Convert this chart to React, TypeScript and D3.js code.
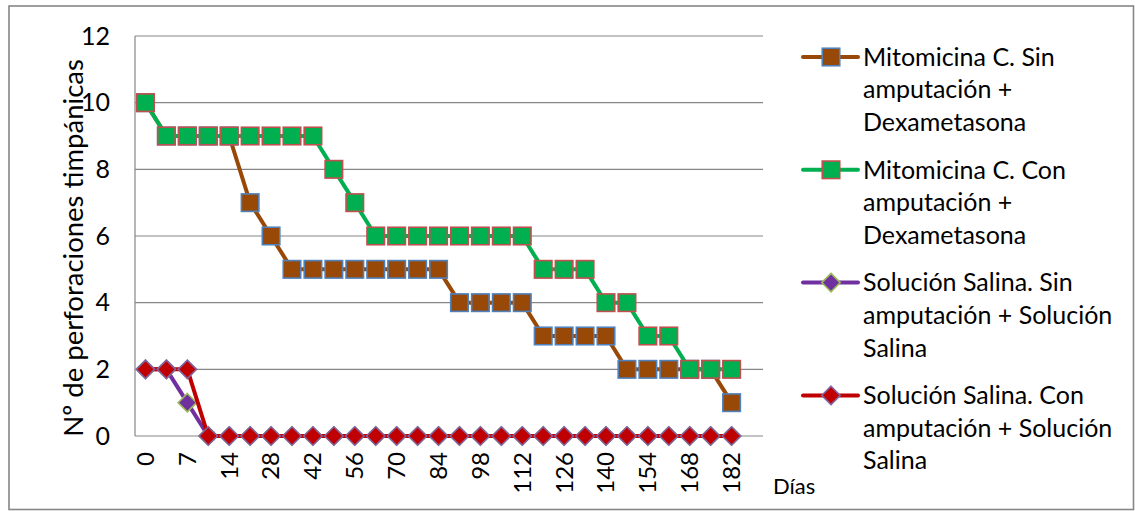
import React from "react";
import * as d3 from "d3";

// Days of follow-up (category axis; every second one is labelled)
const dias = [
  "0", "3", "7", "10", "14", "21", "28", "35", "42", "49", "56", "63", "70", "77", "84",
  "91", "98", "105", "112", "119", "126", "133", "140", "147", "154", "161", "168", "175", "182", "189",
];

const mitoSinAmp: (number | null)[] = [
  10, 9, 9, 9, 9, 7, 6, 5, 5, 5, 5, 5, 5, 5, 5, 4, 4, 4, 4, 3, 3, 3, 3, 2, 2, 2, 2, 2, 1, null,
];
const mitoConAmp: (number | null)[] = [
  10, 9, 9, 9, 9, 9, 9, 9, 9, 8, 7, 6, 6, 6, 6, 6, 6, 6, 6, 5, 5, 5, 4, 4, 3, 3, 2, 2, 2, null,
];
const salinaSinAmp: (number | null)[] = [
  2, 2, 1, 0, 0, 0, 0, 0, 0, 0, 0, 0, 0, 0, 0, 0, 0, 0, 0, 0, 0, 0, 0, 0, 0, 0, 0, 0, 0, null,
];
const salinaConAmp: (number | null)[] = [
  2, 2, 2, 0, 0, 0, 0, 0, 0, 0, 0, 0, 0, 0, 0, 0, 0, 0, 0, 0, 0, 0, 0, 0, 0, 0, 0, 0, 0, null,
];

const yTicks = [0, 2, 4, 6, 8, 10, 12];

type Series = {
  lines: string[];
  values: (number | null)[];
  line: string;
  fill: string;
  stroke: string;
  shape: "square" | "diamond";
};

const series: Series[] = [
  { lines: ["Mitomicina C. Sin", "amputación +", "Dexametasona"], values: mitoSinAmp, line: "#984807", fill: "#984807", stroke: "#4F81BD", shape: "square" },
  { lines: ["Mitomicina C. Con", "amputación +", "Dexametasona"], values: mitoConAmp, line: "#00B050", fill: "#00B050", stroke: "#C0504D", shape: "square" },
  { lines: ["Solución Salina. Sin", "amputación + Solución", "Salina"], values: salinaSinAmp, line: "#7030A0", fill: "#7030A0", stroke: "#9BBB59", shape: "diamond" },
  { lines: ["Solución Salina. Con", "amputación + Solución", "Salina"], values: salinaConAmp, line: "#C00000", fill: "#C00000", stroke: "#8064A2", shape: "diamond" },
];

const W = 1135;
const H = 511;
const plot = { left: 135, right: 763, top: 36, bottom: 436 };
const FONT = "Lato, 'Open Sans', sans-serif";
const GRID = "#868686";

function Marker({ shape, x, y, fill, stroke }: { shape: string; x: number; y: number; fill: string; stroke: string }) {
  if (shape === "square") {
    const s = 17.5;
    return <rect x={x - s / 2} y={y - s / 2} width={s} height={s} fill={fill} stroke={stroke} strokeWidth={1.6} />;
  }
  const r = 9.2;
  return (
    <path
      d={`M${x},${y - r}L${x + r},${y}L${x},${y + r}L${x - r},${y}Z`}
      fill={fill}
      stroke={stroke}
      strokeWidth={1.6}
    />
  );
}

export default function App() {
  const x = d3.scaleBand<string>().domain(dias).range([plot.left, plot.right]).padding(0);
  const cx = (d: string) => (x(d) ?? 0) + x.bandwidth() / 2;
  const y = d3.scaleLinear().domain([0, 12]).range([plot.bottom, plot.top]);

  const lineGen = d3
    .line<number | null>()
    .defined((v) => v !== null)
    .x((_, i) => cx(dias[i]))
    .y((v) => y(v as number));

  const legendX = 803;
  const legendTop = 57;
  const itemStep = 112.8;
  const lineStep = 32.6;

  return (
    <svg
      width={W}
      height={H}
      style={{ position: "absolute", left: 0, top: 0, display: "block" }}
      fontFamily={FONT}
    >
      <rect x={0} y={0} width={W} height={H} fill="#fff" />
      {/* chart border */}
      <rect x={9} y={6} width={1124.5} height={503.5} fill="none" stroke={GRID} strokeWidth={1.6} />

      {/* horizontal gridlines */}
      {yTicks.map((t) => (
        <line key={t} x1={plot.left} x2={plot.right} y1={y(t)} y2={y(t)} stroke={GRID} strokeWidth={1.2} />
      ))}
      {/* y axis */}
      <line x1={plot.left} x2={plot.left} y1={plot.top} y2={plot.bottom} stroke={GRID} strokeWidth={1.2} />

      {/* y tick labels */}
      {yTicks.map((t) => (
        <text key={t} x={110} y={y(t)} dy="0.35em" textAnchor="end" fontSize={25} fill="#000">
          {t}
        </text>
      ))}

      {/* x tick labels */}
      {dias.map((d, i) =>
        i % 2 === 0 ? (
          <text
            key={d}
            transform={`translate(${cx(d)},452) rotate(-90)`}
            dy="0.35em"
            textAnchor="end"
            fontSize={24}
            fill="#000"
          >
            {d}
          </text>
        ) : null
      )}

      {/* axis titles */}
      <text transform="translate(83,248) rotate(-90)" textAnchor="middle" fontSize={27.5} fill="#000">
        Nº de perforaciones timpánicas
      </text>
      <text x={773} y={494} fontSize={22} fill="#000">
        Días
      </text>

      {/* series lines and markers */}
      {series.map((s, si) => (
        <g key={si}>
          <path d={lineGen(s.values) ?? ""} fill="none" stroke={s.line} strokeWidth={4} strokeLinejoin="round" strokeLinecap="round" />
          {s.values.map((v, i) =>
            v === null ? null : (
              <Marker key={i} shape={s.shape} x={cx(dias[i])} y={y(v)} fill={s.fill} stroke={s.stroke} />
            )
          )}
        </g>
      ))}

      {/* legend */}
      {series.map((s, si) => {
        const ly = legendTop + si * itemStep;
        return (
          <g key={si}>
            <line x1={legendX} x2={858} y1={ly} y2={ly} stroke={s.line} strokeWidth={4} strokeLinecap="round" />
            <Marker shape={s.shape} x={831} y={ly} fill={s.fill} stroke={s.stroke} />
            {s.lines.map((t, li) => (
              <text key={li} x={863} y={ly + li * lineStep} dy="0.35em" fontSize={25} fill="#000">
                {t}
              </text>
            ))}
          </g>
        );
      })}
    </svg>
  );
}
